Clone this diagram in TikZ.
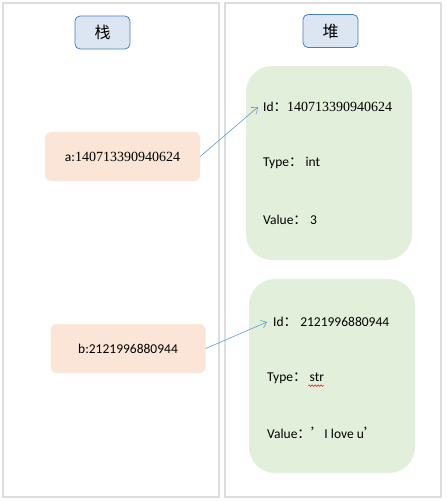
\documentclass[tikz,border=0pt]{standalone}
\usepackage{fontspec}
\setmainfont{Carlito}
\newfontfamily\cjk{Noto Sans CJK SC}
\newfontfamily\numfont{Liberation Serif}
\newcommand{\serifnum}[1]{{\numfont\fontsize{14}{16}\selectfont #1}}
\usetikzlibrary{arrows.meta,decorations.pathmorphing}
\definecolor{panelgray}{HTML}{DDDDDD}
\definecolor{titlefill}{HTML}{DCE6F2}
\definecolor{titleline}{HTML}{4A7EBB}
\definecolor{stackfill}{HTML}{FBE5D6}
\definecolor{heapfill}{HTML}{E2EFDA}
\definecolor{ptrblue}{HTML}{5B9BD5}
\begin{document}
\begin{tikzpicture}[x=1pt,y=-1pt,
  panel/.style={draw=panelgray,line width=2pt},
  titlebox/.style={draw=titleline,line width=0.8pt,fill=titlefill,rounded corners=5pt,minimum width=55pt,minimum height=33pt,font=\cjk\fontsize{16}{18}\selectfont},
  varbox/.style={fill=stackfill,rounded corners=6pt,minimum width=155pt,minimum height=49pt,font=\fontsize{13.5}{16}\selectfont},
  objbox/.style={fill=heapfill,rounded corners=26pt,minimum width=166pt,minimum height=194pt},
  field/.style={anchor=west,inner sep=0pt,font=\fontsize{13.5}{16}\selectfont},
  ptr/.style={draw=ptrblue,line width=0.6pt,-{Straight Barb[length=5pt,width=8pt]}}]
\useasboundingbox (0,0) rectangle (447,502);
% two columns
\draw[panel] (3,3) rectangle (219,497);
\draw[panel] (225,3) rectangle (441,497);
\node[titlebox] (stack) at (102.5,32.5) {栈};
\node[titlebox] (heap) at (330.5,31) {堆};
% heap objects
\node[objbox] (objA) at (329,163) {};
\node[objbox] (objB) at (332,376) {};
\node[field] (idA) at (263,107) {Id{\cjk ：}\serifnum{140713390940624}};
\node[field] (typeA) at (263,163) {Type{\cjk ：} int};
\node[field] (valA) at (263,220) {Value{\cjk ：} 3};
\node[field] (idB) at (273,322) {Id{\cjk ：} 2121996880944};
\node[field] (typeB) at (267,378) {Type{\cjk ：} str};
\node[field] (valB) at (267,433) {Value{\cjk ：’}I love u{\cjk ’}};
\draw[red,line width=0.5pt,decorate,decoration={snake,amplitude=0.8pt,segment length=3pt}] ([xshift=-16pt,yshift=-2pt]typeB.south east) -- ([yshift=-2pt]typeB.south east);
% stack variables
\node[varbox] (varA) at (122.5,156.5) {a:\serifnum{140713390940624}};
\node[varbox] (varB) at (128,348.5) {b:2121996880944};
\draw[ptr] (varA.east) -- ([xshift=-5pt]idA.west);
\draw[ptr] (varB.east) -- ([xshift=-6pt]idB.west);
\end{tikzpicture}
\end{document}
